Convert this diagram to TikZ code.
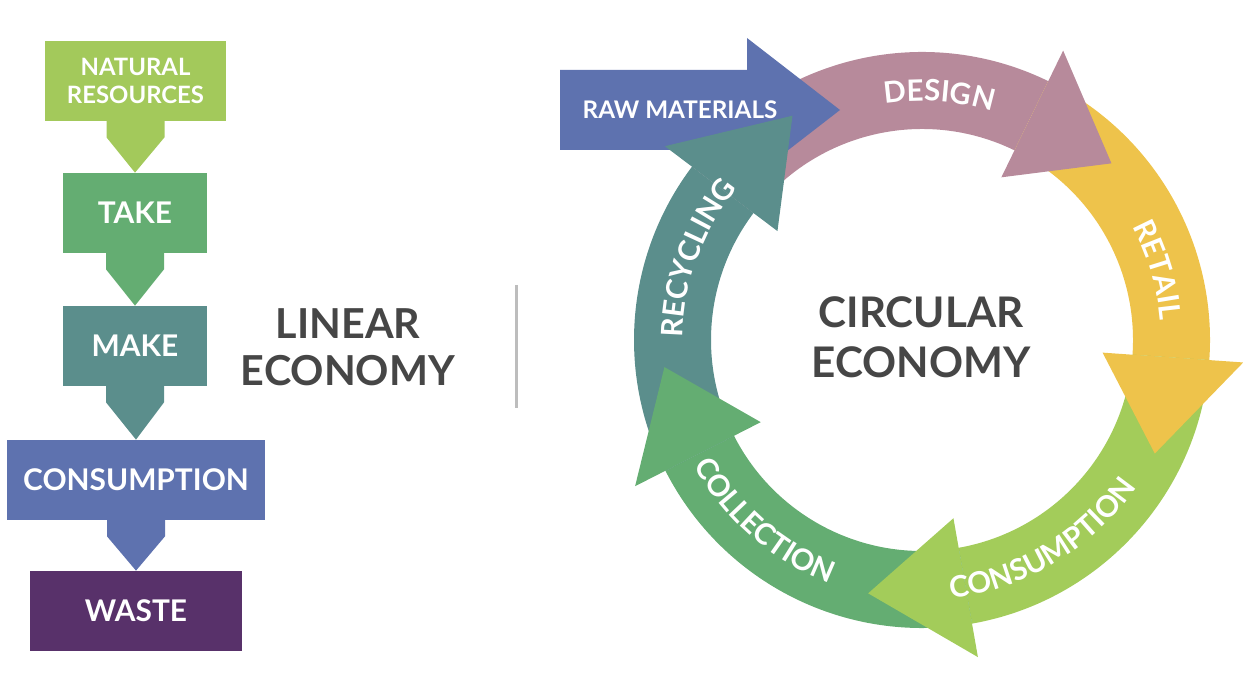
\documentclass[tikz,border=0pt]{standalone}
\usepackage{fontspec}
\setmainfont{Lato}
\usetikzlibrary{calc,decorations.text}

\definecolor{natgreen}{HTML}{A3C95B}
\definecolor{takegreen}{HTML}{64AD72}
\definecolor{maketeal}{HTML}{5B8E8C}
\definecolor{consblue}{HTML}{5E72AF}
\definecolor{wastepurple}{HTML}{58316A}
\definecolor{designpink}{HTML}{B78A9B}
\definecolor{retailyellow}{HTML}{EEC34B}
\definecolor{usegreen}{HTML}{A3CC5A}
\definecolor{titlegrey}{HTML}{464646}
\definecolor{sepgrey}{HTML}{BDBDBD}

\newcommand\boxfont{\fontsize{17}{20}\selectfont\bfseries}
\newcommand\ringfont{\fontsize{16.8}{20}\selectfont\bfseries}
\newcommand\titlefont{\fontsize{23.5}{27}\selectfont\bfseries}

% ring pieces, centre (ctr), band 211..288, head 181..321
\def\ringband[#1](#2:#3){\fill[#1] ($(ctr)+(#2:288)$) arc[start angle=#2, end angle=#3, radius=288] -- ($(ctr)+(#3:211)$) arc[start angle=#3, end angle=#2, radius=211] -- cycle;}
\def\ringhead[#1](#2:#3){\fill[#1] ($(ctr)+(#2:181)$) -- ($(ctr)+(#2:322)$) -- ($(ctr)+(#3:259)$) -- cycle;}
\def\ringtext(#1:#2:#3)#4{\path[decorate, decoration={text along path, text align=center, text color=white, text format delimiters={|}{|}, text={|\ringfont|#4}}] ($(ctr)+(#1:#3)$) arc[start angle=#1, end angle=#2, radius=#3];}

\begin{document}
\begin{tikzpicture}[x=0.02cm, y=0.02cm,
    box/.style={minimum height=1.6cm, inner sep=0pt, text=white, font=\boxfont},
    title/.style={text=titlegrey, font=\titlefont, align=center}]
		%%%%% LINEAR %%%%%
		\useasboundingbox (0,0) rectangle (1243,679);
		
		\node[box, fill=natgreen, minimum width=3.62cm, align=center, font=\fontsize{13.6}{16.4}\selectfont\bfseries] (nat) at (135.5,598) {NATURAL\\RESOURCES};
		\node[box, fill=takegreen, minimum width=2.88cm] (take) at (135,466) {TAKE};
		\node[box, fill=maketeal, minimum width=2.88cm] (make) at (135,333) {MAKE};
		\node[box, fill=consblue, minimum width=5.16cm] (cons) at (136,199) {CONSUMPTION};
		\node[box, fill=wastepurple, minimum width=4.24cm] (waste) at (136,68) {WASTE};
		
		\fill[natgreen] ($(nat.south)+(-29,1)$) -- ++(0,-17) -- (take.north) -- ($(nat.south)+(29,-16)$) -- ++(0,17) -- cycle;
		\fill[takegreen] ($(take.south)+(-29,1)$) -- ++(0,-17) -- (make.north) -- ($(take.south)+(29,-16)$) -- ++(0,17) -- cycle;
		\fill[maketeal] ($(make.south)+(-29,1)$) -- ++(0,-17) -- (cons.north) -- ($(make.south)+(29,-16)$) -- ++(0,17) -- cycle;
		\fill[consblue] ($(cons.south)+(-29,1)$) -- ++(0,-17) -- (waste.north) -- ($(cons.south)+(29,-16)$) -- ++(0,17) -- cycle;
		
		\node[title] (linear) at (348,332) {LINEAR\\ECONOMY};
		\draw[sepgrey, line width=1.7pt] (516,394) -- (516,271);
		
		%%%%% CIRCULAR %%%%%
		\coordinate (ctr) at (922,339);
		\node[title, font=\fontsize{24}{28.5}\selectfont\bfseries] (circular) at (921,342) {CIRCULAR\\ECONOMY};
		
		\ringband[designpink](143:64)
		\ringband[retailyellow](64:-4)
		\ringband[usegreen](-4:-80)
		\ringband[takegreen](-80:-153)
		\ringband[maketeal](-153:-217)
		
		\fill[consblue] (560,529) -- (747,529) -- (747,497) -- (840,569) -- (747,641) -- (747,609) -- (560,609) -- cycle;
		\node[text=white, font=\fontsize{13.8}{16}\selectfont\bfseries] (raw) at (680,569) {RAW MATERIALS};
		
		\ringhead[maketeal](143:120)
		\ringhead[designpink](64:43)
		\ringhead[retailyellow](-4:-26)
		\ringhead[usegreen](-80:-102)
		\ringhead[takegreen](-153:-174)
		
		\ringtext(126:46:239){DESIGN}
		\ringtext(56:-23:239){RETAIL}
		\ringtext(-104:-14:260){CONSUMPTION}
		\ringtext(184:274:260){COLLECTION}
		\ringtext(205:115:239){RECYCLING}
		
		%%%%% END %%%%%
	\end{tikzpicture}
\end{document}
